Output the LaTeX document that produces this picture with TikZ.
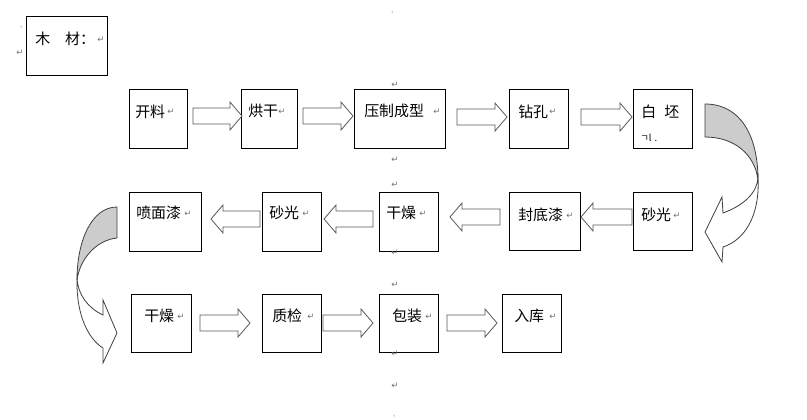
\documentclass[tikz,border=0pt]{standalone}
\usepackage{fontspec}
\newfontfamily\cjk{Noto Sans CJK SC}
\newfontfamily\djv{DejaVu Sans}
\begin{document}
\begin{tikzpicture}[x=0.75pt,y=-0.75pt,
  box/.style={draw=black,line width=0.75pt,fill=white,rectangle,inner sep=0pt},
  lbl/.style={font=\cjk\fontsize{11.2}{13}\selectfont,anchor=west,inner sep=0pt},
  pmk/.style={font=\djv\fontsize{6.5}{7}\selectfont,text=black!55,inner sep=0pt},
  tiny/.style={font=\djv\fontsize{3.5}{4}\selectfont,text=black!40,inner sep=0pt},
  blk/.style={draw=black!65,fill=white,line width=0.6pt,line join=miter},
  crv/.style={draw=black!75,line width=0.6pt,line join=miter},
  rarr/.pic={\path[blk] (0,-8) -- (#1-12,-8) -- (#1-12,-14) -- (#1,0) -- (#1-12,14) -- (#1-12,8) -- (0,8) -- cycle;}]
\useasboundingbox (0,0) rectangle (807,419);
\fill[white] (0,0) rectangle (807,419);

% boxes
\node[box,minimum width=81*0.75pt,minimum height=59*0.75pt] (mc) at (66.5,45.5) {};
\node[box,minimum width=58*0.75pt,minimum height=59*0.75pt] (kl) at (158,118.5) {};
\node[box,minimum width=56*0.75pt,minimum height=59*0.75pt] (hg) at (269,118.5) {};
\node[box,minimum width=91*0.75pt,minimum height=59*0.75pt] (yz) at (399.5,118.5) {};
\node[box,minimum width=59*0.75pt,minimum height=59*0.75pt] (zk) at (538.5,118.5) {};
\node[box,minimum width=59*0.75pt,minimum height=59*0.75pt] (bp) at (662.5,118.5) {};
\node[box,minimum width=59*0.75pt,minimum height=58*0.75pt] (sga) at (662.5,221) {};
\node[box,minimum width=71*0.75pt,minimum height=58*0.75pt] (fd) at (544.5,221) {};
\node[box,minimum width=59*0.75pt,minimum height=59*0.75pt] (gza) at (408.5,221.5) {};
\node[box,minimum width=59*0.75pt,minimum height=59*0.75pt] (sgb) at (291.5,221.5) {};
\node[box,minimum width=72*0.75pt,minimum height=59*0.75pt] (pq) at (165,221.5) {};
\node[box,minimum width=60*0.75pt,minimum height=58*0.75pt] (gzb) at (161,323) {};
\node[box,minimum width=59*0.75pt,minimum height=58*0.75pt] (zj) at (291.5,323) {};
\node[box,minimum width=59*0.75pt,minimum height=58*0.75pt] (bz) at (408.5,323) {};
\node[box,minimum width=59*0.75pt,minimum height=58*0.75pt] (rk) at (531.5,323) {};

% labels
\node[lbl] (tmc) at (35,39) {木　材：};
\node[lbl] (tkl) at (135,111.5) {开料};
\node[lbl] (thg) at (248,111) {烘干};
\node[lbl] (tyz) at (364,111) {压制成型};
\node[lbl] (tzk) at (518,112) {钻孔};
\node[lbl] (tbp1) at (641,112) {白};
\node[lbl] (tbp2) at (664,112) {坯};
\node[lbl,font=\cjk\fontsize{7}{8}\selectfont] (tbp3) at (640,138) {ㄱl\,\,.};
\node[lbl] (tsga) at (641,215) {砂光};
\node[lbl] (tfd) at (518,215) {封底漆};
\node[lbl] (tgza) at (386,213) {干燥};
\node[lbl] (tsgb) at (269,213) {砂光};
\node[lbl] (tpq) at (136,213) {喷面漆};
\node[lbl] (tgzb) at (144,316) {干燥};
\node[lbl] (tzj) at (272,316) {质检};
\node[lbl] (tbz) at (392,316) {包装};
\node[lbl] (trk) at (514,316) {入库};

% paragraph marks
\foreach \n/\x/\y in {a/101/40,b/171/112,c/282/112,d/437/112,e/553/112,f/677/216,g/570/216,h/423/214,i/306/214,j/188/214,k/181/317,l/311/317,m/429/317,n/553/317,
  o/20/53,p/395/85,q/395/160,r/395/185,s/395/253,t/395/285,u/395/354,v/395/386}
  \node[pmk] (pm\n) at (\x,\y) {↵};
\node[tiny] (pmw) at (21,27) {·ı};
\node[tiny] (pmx) at (392,12) {·ı};
\node[tiny] (pmy) at (394,416) {·ı};

% block arrows
\pic at (193,116) {rarr=49};
\pic at (303,116) {rarr=50};
\pic at (457,117) {rarr=50};
\pic at (581,117) {rarr=51};
\pic[xscale=-1] at (632,217) {rarr=51};
\pic[xscale=-1] at (500,217) {rarr=50};
\pic[xscale=-1] at (373,219) {rarr=49};
\pic[xscale=-1] at (260,219) {rarr=49};
\pic at (200,323) {rarr=50};
\pic at (323,323) {rarr=50};
\pic at (447,323) {rarr=50};

% right curved arrow
\path[crv,fill=white] (758,178) .. controls (760,215) and (745,240) .. (723,247)
  -- (722,262) -- (705,232) -- (722,197) -- (723,213)
  .. controls (745,205) and (757,192) .. (758,178) -- cycle;
\path[crv,fill=black!20] (705,104) -- (705,137) .. controls (735,137) and (755,155) .. (758,180)
  .. controls (758,135) and (740,104) .. (705,104) -- cycle;

% left curved arrow
\path[crv,fill=white] (77,278) .. controls (76,318) and (90,340) .. (103,348)
  -- (103,363) -- (117,333) -- (103,300) -- (103,315)
  .. controls (88,308) and (78,295) .. (77,278) -- cycle;
\path[crv,fill=black!20] (117,207) -- (117,238) .. controls (97,240) and (80,258) .. (77,280)
  .. controls (77,240) and (92,207) .. (117,207) -- cycle;
\end{tikzpicture}
\end{document}
